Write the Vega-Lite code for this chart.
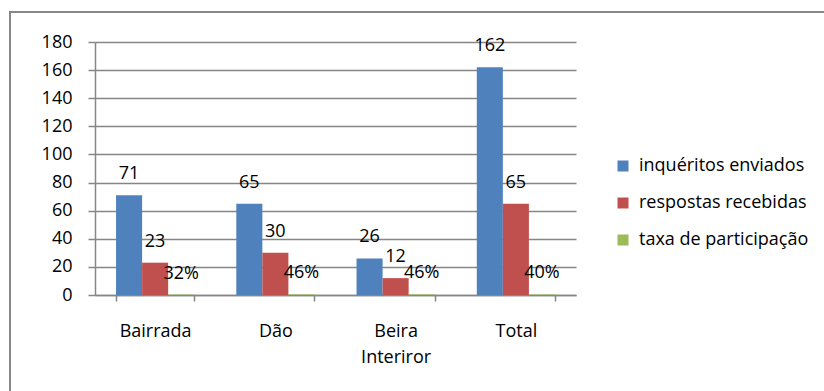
{
  "$schema": "https://vega.github.io/schema/vega-lite/v6.json",
  "width": 824,
  "height": 389,
  "autosize": {"type": "none"},
  "padding": {"left": 10, "top": 12, "right": -10, "bottom": -10},
  "config": {
    "view": {"stroke": "#868686", "strokeWidth": 2},
    "font": "Open Sans"
  },
  "data": {
    "values": [
      {"category": "Bairrada", "series": "inquéritos enviados", "value": 71, "label": "71"},
      {"category": "Bairrada", "series": "respostas recebidas", "value": 23, "label": "23"},
      {"category": "Bairrada", "series": "taxa de participação", "value": 0.32, "label": "32%"},
      {"category": "Dão", "series": "inquéritos enviados", "value": 65, "label": "65"},
      {"category": "Dão", "series": "respostas recebidas", "value": 30, "label": "30"},
      {"category": "Dão", "series": "taxa de participação", "value": 0.46, "label": "46%"},
      {"category": "Beira Interiror", "series": "inquéritos enviados", "value": 26, "label": "26"},
      {"category": "Beira Interiror", "series": "respostas recebidas", "value": 12, "label": "12"},
      {"category": "Beira Interiror", "series": "taxa de participação", "value": 0.46, "label": "46%"},
      {"category": "Total", "series": "inquéritos enviados", "value": 162, "label": "162"},
      {"category": "Total", "series": "respostas recebidas", "value": 65, "label": "65"},
      {"category": "Total", "series": "taxa de participação", "value": 0.40, "label": "40%"}
    ]
  },
  "encoding": {
    "x": {
      "field": "category",
      "type": "nominal",
      "sort": ["Bairrada", "Dão", "Beira Interiror", "Total"],
      "scale": {"range": [85, 566], "paddingInner": 0.35, "paddingOuter": 0.175},
      "axis": {
        "title": null,
        "offset": -106,
        "labelAngle": 0,
        "labelExpr": "split(datum.label, ' ')",
        "labelLineHeight": 26,
        "labelFontSize": 18,
        "labelColor": "#000000",
        "labelPadding": 21,
        "tickBand": "extent",
        "tickSize": 6,
        "tickColor": "#868686",
        "tickWidth": 1.5,
        "domainColor": "#868686",
        "domainWidth": 1.5,
        "grid": false
      }
    },
    "xOffset": {
      "field": "series",
      "type": "nominal",
      "sort": ["inquéritos enviados", "respostas recebidas", "taxa de participação"],
      "scale": {"paddingInner": 0, "paddingOuter": 0}
    },
    "y": {
      "field": "value",
      "type": "quantitative",
      "scale": {"domain": [0, 180], "range": [283, 30], "nice": false},
      "axis": {
        "title": null,
        "offset": -85,
        "values": [0, 20, 40, 60, 80, 100, 120, 140, 160, 180],
        "labelFontSize": 18,
        "labelColor": "#000000",
        "labelPadding": 16,
        "tickSize": 7,
        "tickColor": "#868686",
        "tickWidth": 1.5,
        "domainColor": "#868686",
        "domainWidth": 1.5,
        "grid": true,
        "gridColor": "#868686",
        "gridWidth": 1.5
      }
    }
  },
  "layer": [
    {
      "mark": {"type": "bar"},
      "encoding": {
        "color": {
          "field": "series",
          "type": "nominal",
          "scale": {
            "domain": ["inquéritos enviados", "respostas recebidas", "taxa de participação"],
            "range": ["#4F81BD", "#C0504D", "#9BBB59"]
          },
          "legend": {
            "title": null,
            "orient": "none",
            "legendX": 604,
            "legendY": 145,
            "padding": 0,
            "symbolType": "square",
            "symbolSize": 121,
            "symbolStrokeWidth": 0,
            "symbolOpacity": 1,
            "labelFontSize": 18,
            "labelColor": "#000000",
            "labelOffset": 7,
            "labelLimit": 400,
            "rowPadding": 19
          }
        }
      }
    },
    {
      "mark": {"type": "text", "baseline": "alphabetic", "dy": -16, "fontSize": 18, "color": "#000000"},
      "encoding": {"text": {"field": "label"}}
    }
  ]
}
